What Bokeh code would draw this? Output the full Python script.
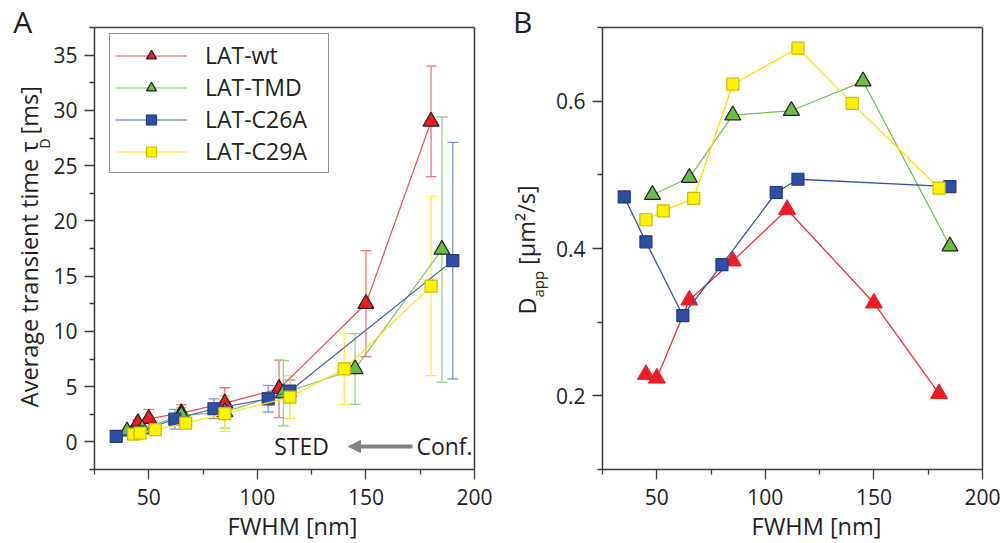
from bokeh.plotting import figure
from bokeh.models import (ColumnDataSource, Whisker, TeeHead, Legend, LegendItem,
                          Label, Arrow, NormalHead, FixedTicker, Range1d, LinearAxis)
from bokeh.layouts import row
from bokeh.embed import file_html
from bokeh.resources import INLINE

FONT = "Open Sans"
TXT = "#231f20"

# ---------------- Panel A data: average transient time tau_D [ms] ----------------
wt_x = [45, 50, 65, 85, 110, 150, 180]
wt_tau = [1.7, 2.1, 2.6, 3.5, 4.8, 12.5, 29.0]
wt_err = [0.3, 0.85, 0.75, 1.4, 2.6, 4.8, 5.0]

tmd_x = [40, 47, 65, 85, 112, 145, 185]
tmd_tau = [0.95, 1.15, 2.4, 2.7, 4.4, 6.6, 17.4]
tmd_err = [0.2, 0.3, 0.7, 1.45, 2.95, 3.2, 12.0]

c26_x = [35, 45, 62, 80, 105, 115, 190]
c26_tau = [0.5, 0.9, 2.05, 3.0, 3.9, 4.6, 16.4]
c26_err = [0.15, 0.3, 0.9, 0.9, 1.2, 1.0, 10.7]

c29_x = [43, 46, 53, 67, 85, 115, 140, 180]
c29_tau = [0.7, 0.8, 1.1, 1.7, 2.55, 4.05, 6.6, 14.1]
c29_err = [0.25, 0.3, 0.35, 0.45, 1.6, 1.95, 3.2, 8.1]

# ---------------- Panel B data: D_app [um^2/s] ----------------
wt_bx = [45, 50, 65, 85, 110, 150, 180]
wt_d = [0.229, 0.224, 0.330, 0.383, 0.453, 0.326, 0.203]
tmd_bx = [48, 65, 85, 112, 145, 185]
tmd_d = [0.473, 0.496, 0.581, 0.587, 0.627, 0.403]
c26_bx = [35, 45, 62, 80, 105, 115, 185]
c26_d = [0.470, 0.409, 0.309, 0.378, 0.476, 0.494, 0.484]
c29_bx = [45, 53, 67, 85, 115, 140, 180]
c29_d = [0.439, 0.451, 0.468, 0.623, 0.672, 0.597, 0.482]

series_names = ["LAT-wt", "LAT-TMD", "LAT-C26A", "LAT-C29A"]

# ticks
x_lim = (25, 200)
x_ticks = [50, 100, 150, 200]
x_minor = [25, 75, 125, 175]
a_y_lim = (-2.5, 37.5)
a_y_ticks = [0, 5, 10, 15, 20, 25, 30, 35]
a_y_minor = [-2.5, 2.5, 7.5, 12.5, 17.5, 22.5, 27.5, 32.5, 37.5]
b_y_lim = (0.1, 0.7)
b_y_ticks = [0.2, 0.4, 0.6]
b_y_labels = ["0.2", "0.4", "0.6"]
b_y_minor = [0.1, 0.3, 0.5, 0.7]

# styles
styles = {
    "LAT-wt":   dict(marker="triangle", fill="#ed1c24", edge="#231f20", line="#ef4a4f", err="#f27378", size=16),
    "LAT-TMD":  dict(marker="triangle", fill="#6abd45", edge="#231f20", line="#7dc462", err="#96d184", size=16),
    "LAT-C26A": dict(marker="square",   fill="#2e4fa3", edge="#22397a", line="#4560ad", err="#8295cc", size=12),
    "LAT-C29A": dict(marker="square",   fill="#fff200", edge="#cdb900", line="#ffe11a", err="#ffe940", size=12),
}

H = 543
BOX_T, BOX_B = 27, 469   # pixel rows of the data box (top / bottom)


def make_fig(width, box_l, box_r, xlim, ylim):
    sx = (box_r - box_l) / (xlim[1] - xlim[0])
    sy = (BOX_B - BOX_T) / (ylim[1] - ylim[0])
    xr = Range1d(xlim[0] - box_l / sx, xlim[1] + (width - box_r) / sx)
    yr = Range1d(ylim[0] - (H - BOX_B) / sy, ylim[1] + BOX_T / sy)
    p = figure(frame_width=width, frame_height=H, min_border=0, x_range=xr, y_range=yr,
               output_backend="svg", toolbar_location=None, title=None)
    p.background_fill_color = "white"
    p.border_fill_color = "white"
    p.outline_line_color = None
    p.xgrid.visible = False
    p.ygrid.visible = False
    return p


def style_axis(ax, ticker):
    ax.ticker = ticker
    ax.axis_line_color = "#3a3a3a"
    ax.axis_line_width = 1.5
    ax.major_tick_line_color = "#3a3a3a"
    ax.minor_tick_line_color = "#3a3a3a"
    ax.major_tick_line_width = 1.3
    ax.minor_tick_line_width = 1.3
    ax.major_tick_in = 0
    ax.major_tick_out = 10
    ax.minor_tick_in = 0
    ax.minor_tick_out = 5
    ax.major_label_text_font = FONT
    ax.major_label_text_font_size = "21px"
    ax.major_label_text_color = TXT


def setup_axes(p, xlim, ylim, yt, ym, ylabels=None):
    xa = p.xaxis[0]
    ya = p.yaxis[0]
    style_axis(xa, FixedTicker(ticks=x_ticks, minor_ticks=x_minor))
    style_axis(ya, FixedTicker(ticks=yt, minor_ticks=ym))
    xa.fixed_location = ylim[0]
    ya.fixed_location = xlim[0]
    xa.bounds = xlim
    ya.bounds = ylim
    xa.major_label_standoff = 9
    ya.major_label_standoff = 7
    if ylabels is not None:
        ya.major_label_overrides = {t: l for t, l in zip(yt, ylabels)}
    # closing lines of the box (top and right), no ticks
    for place, loc, bnd in (("right", xlim[1], ylim), ("above", ylim[1], xlim)):
        ax = LinearAxis(fixed_location=loc, bounds=bnd, ticker=FixedTicker(ticks=[], minor_ticks=[]),
                        axis_line_color="#3a3a3a", axis_line_width=1.5,
                        major_tick_out=0, major_tick_in=0, minor_tick_out=0, minor_tick_in=0,
                        major_label_text_alpha=0)
        p.add_layout(ax, place)


def text(p, s, x, y, size, align="left", angle=0.0, color=TXT):
    # x, y: screen px from the figure's bottom-left; y is the middle of the capitals
    p.add_layout(Label(x=x, y=y, x_units="screen", y_units="screen", text=s,
                       text_font=FONT, text_font_size=size, text_align=align,
                       text_baseline="middle", angle=angle, text_color=color))


# ================= Panel A =================
pa = make_fig(500, 94, 474, x_lim, a_y_lim)
setup_axes(pa, x_lim, a_y_lim, a_y_ticks, a_y_minor)

a_data = [(wt_x, wt_tau, wt_err), (tmd_x, tmd_tau, tmd_err),
          (c26_x, c26_tau, c26_err), (c29_x, c29_tau, c29_err)]
legend_items = []
for name, (xs, ys, es) in zip(series_names, a_data):
    st = styles[name]
    src = ColumnDataSource(dict(x=xs, y=ys,
                                lo=[v - e for v, e in zip(ys, es)],
                                hi=[v + e for v, e in zip(ys, es)]))
    wh = Whisker(source=src, base="x", lower="lo", upper="hi", line_color=st["err"], line_width=1.3,
                 upper_head=TeeHead(size=11, line_color=st["err"], line_width=1.3),
                 lower_head=TeeHead(size=11, line_color=st["err"], line_width=1.3))
    pa.add_layout(wh)
    lr = pa.line("x", "y", source=src, line_color=st["line"], line_width=1.2)
    sr = pa.scatter("x", "y", source=src, marker=st["marker"], size=st["size"],
                    fill_color=st["fill"], line_color=st["edge"], line_width=1.2)
    legend_items.append(LegendItem(label=name, renderers=[lr, sr]))

legend = Legend(items=legend_items, location=(109, H - 173), padding=5, spacing=0, margin=0,
                label_height=25, glyph_height=25, glyph_width=72, label_standoff=18,
                label_width=118, label_text_font=FONT, label_text_font_size="23px",
                label_text_color=TXT, border_line_color="#231f20", border_line_width=1.2,
                background_fill_color="white", background_fill_alpha=1.0)
pa.add_layout(legend)

# annotations panel A
text(pa, "STED", 301, 97.5, "23px", align="center")
text(pa, "Conf.", 444, 97.5, "23px", align="center")
pa.add_layout(Arrow(end=NormalHead(size=12, fill_color="#808080", line_color="#808080", line_width=1),
                    x_start=412, y_start=97, x_end=348, y_end=97,
                    start_units="screen", end_units="screen",
                    line_color="#808080", line_width=4))
text(pa, "FWHM [nm]", 292, 17.6, "23.5px", align="center")
text(pa, "Average transient time \u03c4", 28.4, 402, "23.5px", align="right", angle=1.5708)
text(pa, "D", 44, 395, "14px", align="left", angle=1.5708)
text(pa, "[ms]", 28.4, 409, "23.5px", align="left", angle=1.5708)
text(pa, "A", 12.7, 522.2, "30px")

# ================= Panel B =================
pb = make_fig(505, 102, 482, x_lim, b_y_lim)
setup_axes(pb, x_lim, b_y_lim, b_y_ticks, b_y_minor, b_y_labels)

b_data = [(wt_bx, wt_d), (tmd_bx, tmd_d), (c26_bx, c26_d), (c29_bx, c29_d)]
b_line = {"LAT-wt": "#ee2d34", "LAT-TMD": "#72bf53", "LAT-C26A": "#3853a3", "LAT-C29A": "#ffdd00"}
for name, (xs, ys) in zip(series_names, b_data):
    st = styles[name]
    src = ColumnDataSource(dict(x=xs, y=ys))
    pb.line("x", "y", source=src, line_color=b_line[name], line_width=1.3)
    if name == "LAT-wt":
        pb.scatter("x", "y", source=src, marker="triangle", size=17,
                   fill_color=st["fill"], line_color=st["fill"], line_width=1)
    else:
        pb.scatter("x", "y", source=src, marker=st["marker"], size=st["size"],
                   fill_color=st["fill"], line_color=st["edge"], line_width=1.2)

text(pb, "FWHM [nm]", 316, 17.6, "23.5px", align="center")
text(pb, "D", 26, 229, "23.5px", align="left", angle=1.5708)
text(pb, "app", 37.6, 246, "15px", align="left", angle=1.5708)
text(pb, "[\u00b5m\u00b2/s]", 26, 278.5, "23.5px", align="left", angle=1.5708)
text(pb, "B", 12.5, 522.5, "30px")

layout = row(pa, pb, spacing=0)
open("out.html", "w").write(file_html(layout, INLINE))
